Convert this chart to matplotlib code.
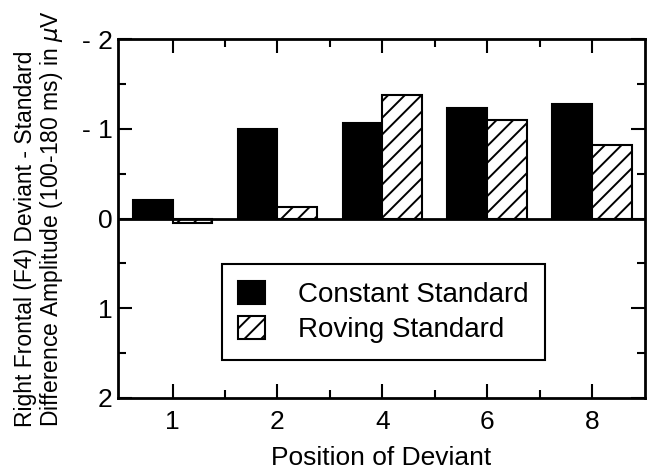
import numpy as np
import matplotlib
matplotlib.use("Agg")
import matplotlib.pyplot as plt
from matplotlib.ticker import FixedLocator, FixedFormatter, MultipleLocator

plt.rcParams['font.family'] = ['Liberation Sans', 'DejaVu Sans']
plt.rcParams['hatch.linewidth'] = 1.4
plt.rcParams['mathtext.fontset'] = 'dejavusans'

# data
positions = ["1", "2", "4", "6", "8"]
constant = [-0.21, -1.0, -1.06, -1.23, -1.28]
roving = [0.05, -0.13, -1.38, -1.10, -0.82]
ytick_vals = [-2, -1, 0, 1, 2]
ytick_labels = ["- 2", "- 1", "0", "1", "2"]

fig = plt.figure(figsize=(6.48, 4.72), dpi=100)
ax = fig.add_axes([0.182, 0.157, 0.813, 0.760])

x = np.arange(len(positions))
w = 0.38
ax.bar(x - w / 2, constant, w, color='black', edgecolor='black', linewidth=1.5,
       label='Constant Standard')
ax.bar(x + w / 2, roving, w, color='white', edgecolor='black', linewidth=1.5,
       hatch='//', label='Roving Standard')
ax.axhline(0, color='black', linewidth=2)

ax.set_xlim(-0.52, 4.5)
ax.set_ylim(2, -2)
ax.set_xticks(x)
ax.set_xticklabels(positions)
ax.xaxis.set_minor_locator(FixedLocator(x[:-1] + 0.5))
ax.yaxis.set_major_locator(FixedLocator(ytick_vals))
ax.yaxis.set_major_formatter(FixedFormatter(ytick_labels))
ax.yaxis.set_minor_locator(MultipleLocator(0.5))

ax.tick_params(which='both', direction='in', top=True, right=True, width=1.5)
ax.tick_params(which='major', length=10)
ax.tick_params(which='minor', length=6)
ax.tick_params(axis='x', labelsize=19, pad=9)
ax.tick_params(axis='y', labelsize=19, pad=4)
for s in ax.spines.values():
    s.set_linewidth(2)

ax.set_xlabel('Position of Deviant', fontsize=19, labelpad=8)
ax.set_ylabel('Right Frontal (F4) Deviant - Standard\n'
              'Difference Amplitude (100-180 ms) in $\\mu$V',
              fontsize=16.5, multialignment='left', linespacing=1.05)
ax.yaxis.set_label_coords(-0.10, 0.5)

leg = ax.legend(loc='upper left', bbox_to_anchor=(0.197, 0.373), borderaxespad=0,
                fontsize=20, fancybox=False, framealpha=1, edgecolor='black',
                handlelength=0.95, handleheight=0.9, handletextpad=1.2,
                labelspacing=0.3, borderpad=0.6)
leg.get_frame().set_linewidth(1.5)

fig.savefig('out.png', dpi=100)
